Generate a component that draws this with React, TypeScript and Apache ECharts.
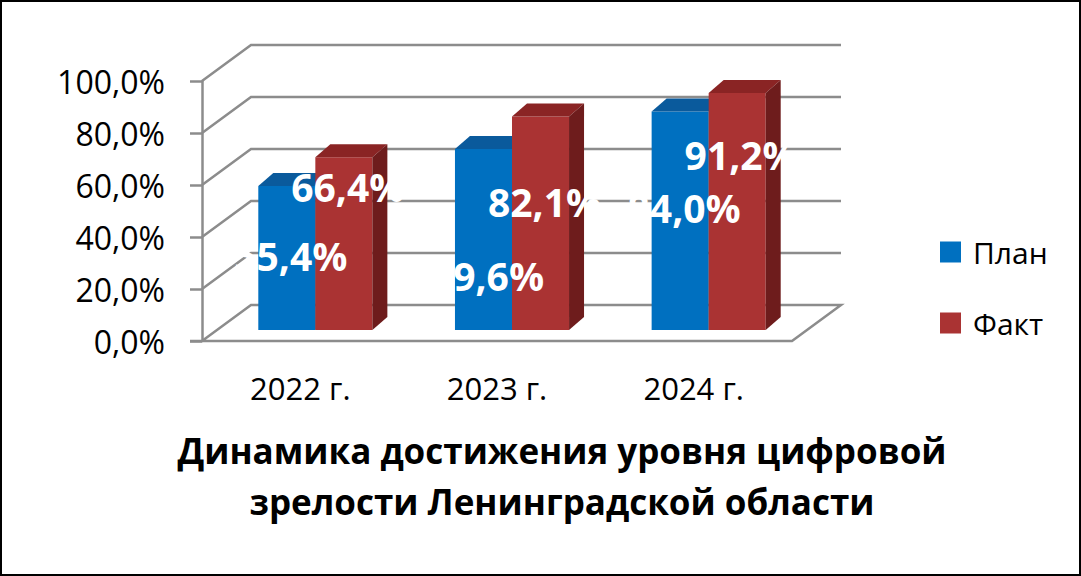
import { useEffect, useRef } from "react";
import * as echarts from "echarts";

// данные
const years = ["2022 г.", "2023 г.", "2024 г."];
const planValues = [55.4, 69.6, 84.0];
const factValues = [66.4, 82.1, 91.2];
const yTicks = [0, 20, 40, 60, 80, 100];
const titleLines = ["Динамика достижения уровня цифровой", "зрелости Ленинградской области"];

// оформление
const FONT = "'Open Sans', 'Noto Sans', sans-serif";
const GRID_COLOR = "#8c8c8c";
const PLAN = { front: "#0070c0", top: "#0a5a9c", side: "#00508a" };
const FACT = { front: "#aa3333", top: "#8a2424", side: "#6e1c1c" };
// глубина пола (перспектива Excel 3D)
const FLOOR_DX = 49;
const FLOOR_DY = -36;
// сдвиг передней грани столбика и его глубина
const BAR_SHIFT = [15, -11];
const BAR_DEPTH = [15, -13];
const BAR_WIDTH = 0.29;
// где стоит подпись, доля высоты столбика
const planLabelAt = [0.52, 0.3, 0.56];
const factLabelAt = [0.83, 0.6, 0.74];

const fmt = (v: number) => v.toFixed(1).replace(".", ",") + "%";

function renderBar(colors: typeof PLAN, side: -1 | 1, labelAt: number[]) {
  return (params: any, api: any) => {
    const i = api.value(0);
    const v = api.value(1);
    const base = api.coord([i, 0]);
    const top = api.coord([i, v]);
    const w = api.size([1, 0])[0] * BAR_WIDTH;
    const cx = base[0] + BAR_SHIFT[0];
    const x0 = side < 0 ? cx - w : cx;
    const x1 = side < 0 ? cx : cx + w;
    const yb = base[1] + BAR_SHIFT[1];
    const yt = top[1] + BAR_SHIFT[1];
    const [dx, dy] = BAR_DEPTH;
    const ly = yb - (yb - yt) * labelAt[params.dataIndex];
    return {
      type: "group",
      children: [
        {
          type: "rect",
          shape: { x: x0, y: yt, width: x1 - x0, height: yb - yt },
          style: { fill: colors.front },
        },
        {
          type: "polygon",
          shape: { points: [[x0, yt], [x1, yt], [x1 + dx, yt + dy], [x0 + dx, yt + dy]] },
          style: { fill: colors.top },
        },
        {
          type: "polygon",
          shape: { points: [[x1, yt], [x1 + dx, yt + dy], [x1 + dx, yb + dy], [x1, yb]] },
          style: { fill: colors.side },
        },
        {
          type: "text",
          z2: 100,
          style: {
            text: fmt(v),
            x: (x0 + x1) / 2 + 4,
            y: ly,
            align: "center",
            verticalAlign: "middle",
            fill: "#fff",
            font: `bold 39px ${FONT}`,
          },
        },
      ],
    };
  };
}

export default function App() {
  const chartRef = useRef<HTMLDivElement>(null);

  useEffect(() => {
    if (!chartRef.current) return;
    document.body.style.margin = "0";
    const chart = echarts.init(chartRef.current, null, { renderer: "svg" });

    const option: echarts.EChartsOption = {
      animation: false,
      backgroundColor: "#fff",
      grid: { left: 202, top: 81, width: 590, height: 260 },
      legend: {
        orient: "vertical",
        left: 940,
        top: 237,
        padding: 0,
        itemWidth: 21,
        itemHeight: 21,
        itemGap: 41,
        icon: "rect",
        textStyle: { fontFamily: FONT, fontSize: 30, color: "#000", padding: [0, 0, 0, 7] },
        data: ["План", "Факт"],
      },
      xAxis: {
        type: "category",
        data: years,
        axisLine: { show: false },
        axisTick: { show: false },
        axisLabel: { fontFamily: FONT, fontSize: 31, color: "#000", margin: 31 },
      },
      yAxis: {
        type: "value",
        min: 0,
        max: 100,
        interval: 20,
        axisLine: { show: true, lineStyle: { color: GRID_COLOR, width: 2.5 } },
        axisTick: { show: true, length: 12, lineStyle: { color: GRID_COLOR, width: 2.5 } },
        axisLabel: { fontFamily: FONT, fontSize: 32, color: "#000", margin: 37, formatter: (v: number) => fmt(v) },
        splitLine: { show: false },
      },
      graphic: [
        {
          type: "rect",
          shape: { x: 1, y: 1, width: 1079, height: 574 },
          style: { fill: "none", stroke: "#000", lineWidth: 2 },
        },
        ...titleLines.map((line, k) => ({
          type: "text" as const,
          x: 562,
          y: 450 + k * 51,
          style: {
            text: line,
            align: "center" as const,
            verticalAlign: "middle" as const,
            font: `bold 35px ${FONT}`,
            fill: "#000",
          },
        })),
      ],
      series: [
        {
          type: "custom",
          name: "walls",
          z: 1,
          silent: true,
          data: yTicks.map((t) => [0, t]),
          renderItem: (params: any, api: any) => {
            const cs = params.coordSys;
            const y = api.coord([0, api.value(1)])[1];
            const xl = cs.x;
            const xr = cs.x + cs.width;
            const pts =
              api.value(1) === 0
                ? [[xl, y], [xl + FLOOR_DX, y + FLOOR_DY], [xr + FLOOR_DX, y + FLOOR_DY], [xr, y], [xl - 12, y]]
                : [[xl, y], [xl + FLOOR_DX, y + FLOOR_DY], [xr + FLOOR_DX, y + FLOOR_DY]];
            return {
              type: "polyline",
              shape: { points: pts },
              style: { stroke: GRID_COLOR, lineWidth: 2.5, fill: "none" },
            };
          },
        },
        {
          type: "custom",
          name: "План",
          z: 2,
          itemStyle: { color: PLAN.front },
          data: planValues.map((v, i) => [i, v]),
          renderItem: renderBar(PLAN, -1, planLabelAt),
        },
        {
          type: "custom",
          name: "Факт",
          z: 2,
          itemStyle: { color: FACT.front },
          data: factValues.map((v, i) => [i, v]),
          renderItem: renderBar(FACT, 1, factLabelAt),
        },
      ],
    };

    chart.setOption(option);
    return () => chart.dispose();
  }, []);

  return (
    <div
      ref={chartRef}
      style={{ position: "absolute", left: 0, top: 0, width: 1081, height: 576 }}
    />
  );
}
